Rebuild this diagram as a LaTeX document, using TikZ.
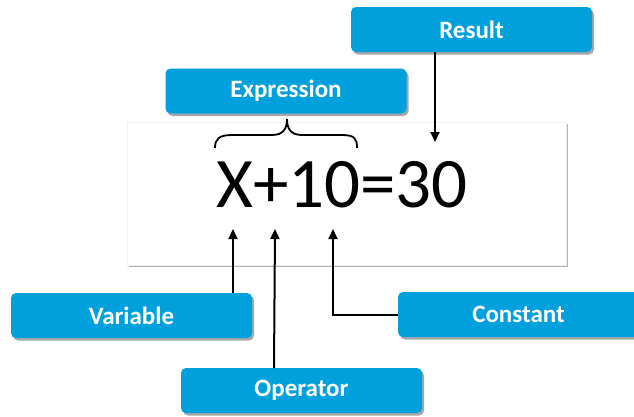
\documentclass[tikz,border=0pt]{standalone}
\usepackage{fontspec}
\setmainfont{Carlito}
\usetikzlibrary{shadows,arrows.meta}
\definecolor{boxblue}{RGB}{0,160,220}
\tikzset{
  lbl/.style={rounded corners=5pt, fill=boxblue, text=white, inner sep=0pt,
    minimum width=241pt, minimum height=45pt,
    font=\fontsize{25}{30}\selectfont\bfseries,
    drop shadow={shadow xshift=2pt, shadow yshift=-2.5pt, fill=black, opacity=0.35}},
  arr/.style={line width=2pt, -{Triangle[length=10pt,width=9pt]}},
  lnk/.style={line width=2pt}
}
\begin{document}
\begin{tikzpicture}[x=1pt,y=-1pt]
\useasboundingbox (0,0) rectangle (634,416);
\clip (0,0) rectangle (634,416);
% panel
\node[fill=white, draw=black!6, inner sep=0pt, minimum width=439pt, minimum height=143pt,
  drop shadow={shadow xshift=1.5pt, shadow yshift=-1.5pt, fill=black, opacity=0.3}]
  (panel) at (346.5,193.5) {};
% equation
\node[anchor=base west, inner sep=0pt, font=\fontsize{71}{80}\selectfont] (eq) at (216,207) {X+10=30};
% brace
\draw[line width=1.8pt] (215,148) .. controls (215,139) and (219,135) .. (232,135) -- (272,135)
  .. controls (283,135) and (287,129) .. (287,119)
  .. controls (287,129) and (291,135) .. (302,135) -- (342,135)
  .. controls (355,135) and (357,139) .. (357,148);
% labels
\node[lbl] (result) at (471.5,29.5) {Result};
\node[lbl] (expr) at (286,91) {Expression};
\node[lbl] (var) at (131.5,315.5) {Variable};
\node[lbl] (op) at (301.5,390.5) {Operator};
\node[lbl] (const) at (518.5,314.5) {Constant};
% target coordinates
\coordinate (rtip) at (435,142);
\coordinate (vtip) at (233,229);
\coordinate (otip) at (275,229);
\coordinate (ctip) at (333,229);
\coordinate (rs) at (435,52);
\coordinate (vs) at (233,293);
\coordinate (os) at (274,368);
% connectors
\draw[arr] (rs) -- (rtip);
\draw[arr] (vs) -- (vtip);
\draw[arr] (os) -- (otip);
\draw[arr] (const.west) -| (ctip);
\end{tikzpicture}
\end{document}
